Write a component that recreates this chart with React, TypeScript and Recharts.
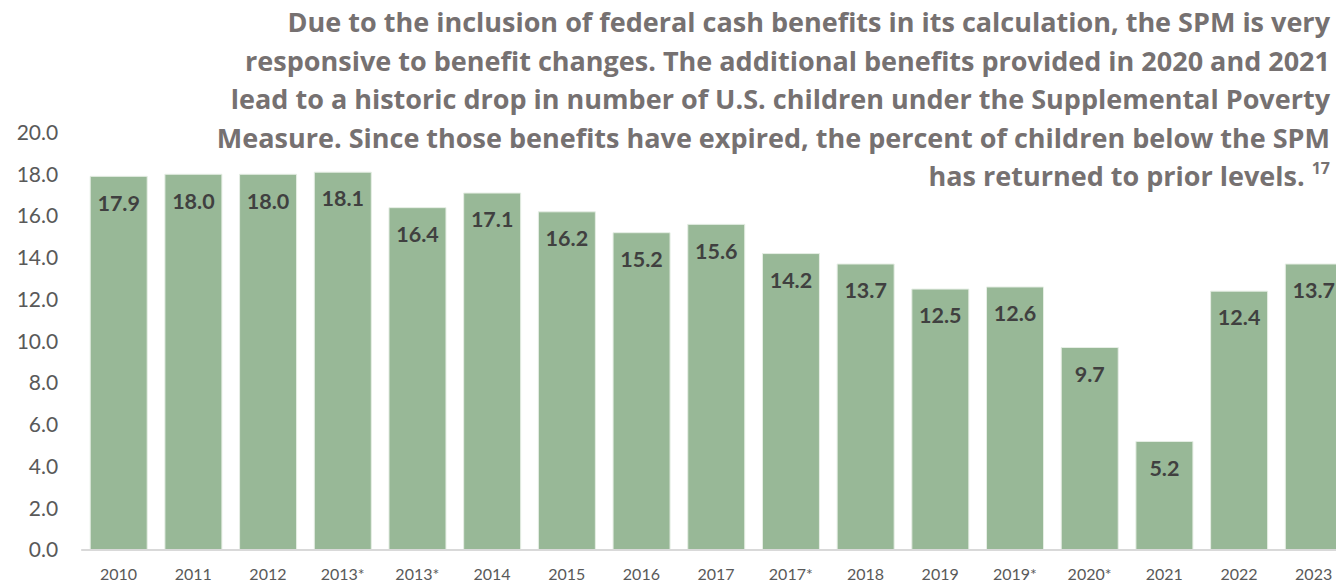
import React from "react";
import { BarChart, Bar, XAxis, YAxis, LabelList } from "recharts";

const categories = ["2010", "2011", "2012", "2013*", "2013*", "2014", "2015", "2016", "2017", "2017*", "2018", "2019", "2019*", "2020*", "2021", "2022", "2023"];
const values = [17.9, 18.0, 18.0, 18.1, 16.4, 17.1, 16.2, 15.2, 15.6, 14.2, 13.7, 12.5, 12.6, 9.7, 5.2, 12.4, 13.7];
const yTicks = [0, 2, 4, 6, 8, 10, 12, 14, 16, 18, 20];
const titleLines = [
  "Due to the inclusion of federal cash benefits in its calculation, the SPM is very",
  "responsive to benefit changes. The additional benefits provided in 2020 and 2021",
  "lead to a historic drop in number of U.S. children under the Supplemental Poverty",
  "Measure. Since those benefits have expired, the percent of children below the SPM",
  "has returned to prior levels.",
];
const footnote = "17";

const data = categories.map((c, i) => ({ id: i, label: c, value: values[i] }));

export default function App() {
  return (
    <div style={{ position: "fixed", top: 0, left: 0, width: 1336, height: 586, overflow: "hidden", fontFamily: "Lato, sans-serif", background: "#fff" }}>
      <BarChart width={1351} height={586} data={data} margin={{ top: 132.5, right: 0, left: 0, bottom: 0 }}>
        <XAxis
          dataKey="id"
          type="category"
          tickFormatter={(v: number) => categories[v]}
          interval={0}
          tickLine={false}
          tickSize={0}
          tickMargin={19}
          height={36}
          axisLine={{ stroke: "#d9d9d9", strokeWidth: 2 }}
          tick={{ fontSize: 16, fill: "#595959", fontFamily: "Lato" }}
        />
        <YAxis
          type="number"
          domain={[0, 20]}
          ticks={yTicks}
          width={81.2}
          axisLine={false}
          tickLine={false}
          tickSize={0}
          tickMargin={23}
          tickFormatter={(v: number) => v.toFixed(1)}
          tick={{ fontSize: 21, fill: "#595959", fontFamily: "Lato" }}
        />
        <Bar dataKey="value" fill="#98b897" stroke="#e6eee5" strokeWidth={1} barSize={57} isAnimationActive={false}>
          <LabelList
            dataKey="value"
            position="insideTop"
            offset={19}
            formatter={(v: number) => v.toFixed(1)}
            style={{ fontSize: 21.5, fontWeight: 700, fill: "#404040", fontFamily: "Lato" }}
          />
        </Bar>
      </BarChart>
      <div
        style={{
          position: "absolute",
          top: 3.3,
          right: 6,
          textAlign: "right",
          fontSize: 27,
          lineHeight: "38.5px",
          fontWeight: 700,
          fontFamily: "'Open Sans', sans-serif",
          color: "#767171",
          whiteSpace: "nowrap",
        }}
      >
        {titleLines.map((t, i) => (
          <div key={i}>
            {t}
            {i === titleLines.length - 1 ? (
              <>
                {" "}
                <span style={{ fontSize: 16, position: "relative", top: -12 }}>{footnote}</span>
              </>
            ) : null}
          </div>
        ))}
      </div>
    </div>
  );
}
